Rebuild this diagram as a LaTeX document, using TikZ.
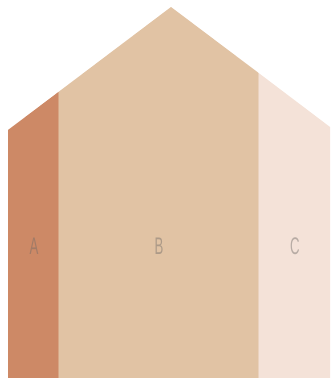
\documentclass[tikz,border=0pt]{standalone}
\usepackage{fontspec}
\setmainfont{Liberation Sans}
\usepackage{xcolor}
\definecolor{stripA}{HTML}{CD8966}
\definecolor{stripB}{HTML}{E1C3A4}
\definecolor{stripC}{HTML}{F4E2D8}
\definecolor{labelgray}{HTML}{6E6A66}
\usetikzlibrary{positioning}

\begin{document}
\begin{tikzpicture}[
    x=1pt, y=-1pt,
    strip/.style={draw=stripA!50!stripB, line width=0.8pt},
    lbl/.style={font=\fontsize{24}{24}\selectfont, text=labelgray, text opacity=0.45,
                xscale=0.55, inner sep=0pt, anchor=center}
  ]
    \useasboundingbox (0,0) rectangle (330,378);
    % house body, split into three strips
    \clip (0,0) rectangle (330,378);
    \fill[stripA] (8,378) -- (8,130) -- (58,92.3) -- (58,378) -- cycle;
    \fill[stripB] (58,378) -- (58,92.3) -- (171,7) -- (258,72.5) -- (258,378) -- cycle;
    \fill[stripC] (258,378) -- (258,72.5) -- (334,130) -- (334,378) -- cycle;
    \draw[strip] (58,92.3) -- (58,378);
    \draw[strip, draw=stripB!50!stripC] (258,72.5) -- (258,378);
    % labels
    \node[lbl] (labA) at (34,246) {A};
    \node[lbl] (labB) at (159,246) {B};
    \node[lbl] (labC) at (295,246) {C};
  \end{tikzpicture}
\end{document}
